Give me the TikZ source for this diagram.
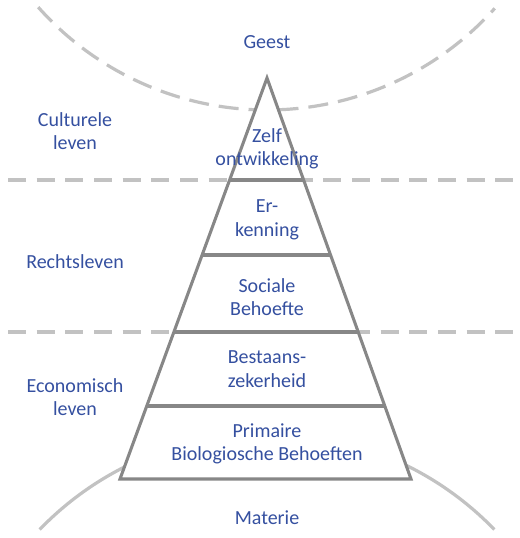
\documentclass[tikz,border=0pt]{standalone}
\usepackage{fontspec}
\setmainfont{Carlito}
\usetikzlibrary{positioning,calc}

\definecolor{lbl_blue}{HTML}{3550A0}
\definecolor{pyr_gray}{HTML}{878787}
\definecolor{sep_gray}{HTML}{C2C2C2}

\tikzset{
  lbl/.style={text=lbl_blue, font=\fontsize{15}{17.6}\selectfont, align=center, inner sep=0pt},
  sep_line/.style={sep_gray, line width=2.3pt, dash pattern=on 13.5pt off 8pt},
  world_arc/.style={sep_gray, line width=2.4pt},
  pyr_line/.style={pyr_gray, line width=2.3pt},
}

\begin{document}
\begin{tikzpicture}[x=0.75pt, y=-0.75pt]
  \useasboundingbox (0,0) rectangle (519,538);

  % spirit and matter
  \coordinate (geest_c) at (267,-196);
  \coordinate (materie_c) at (267,749);
  \draw [world_arc, dash pattern=on 15pt off 7.5pt] ($(geest_c)+(138.4:306)$) arc[start angle=138.4, end angle=41.9, radius=306];
  \draw [world_arc] ($(materie_c)+(224:316)$) arc[start angle=224, end angle=316, radius=316];

  % borders between the three spheres
  \coordinate (sep1_l) at (8,180);
  \coordinate (sep1_r) at (519,180);
  \coordinate (sep2_l) at (8,332);
  \coordinate (sep2_r) at (519,332);
  \draw [sep_line] (sep1_l) -- (sep1_r);
  \draw [sep_line] (sep2_l) -- (sep2_r);

  % pyramid
  \coordinate (apex) at (267,78);
  \coordinate (bl) at (120,479);
  \coordinate (br) at (411,479);
  \draw [pyr_line, fill=white, line join=miter] (apex) -- (bl) -- (br) -- cycle;
  \foreach \t in {0.2544, 0.4414, 0.6334, 0.8180}
    \draw [pyr_line] ($(apex)!\t!(bl)$) -- ($(apex)!\t!(br)$);

  % levels
  \node [lbl] (zelf) at (267,149) {Zelf\\ontwikkeling};
  \node [lbl] (erk) at (267,220) {Er-\\kenning};
  \node [lbl] (sociaal) at (267,297) {Sociale\\Behoefte};
  \node [lbl] (bestaan) at (267,369) {Bestaans-\\zekerheid};
  \node [lbl] (primair) at (267,444) {Primaire\\Biologiosche Behoeften};

  % spheres
  \node [lbl] (geest) at (267,42) {Geest};
  \node [lbl] (materie) at (267,518) {Materie};
  \node [lbl] (cultuur) at (75,131) {Culturele\\leven};
  \node [lbl] (recht) at (75,262) {Rechtsleven};
  \node [lbl] (econ) at (75,397) {Economisch\\leven};
\end{tikzpicture}
\end{document}
